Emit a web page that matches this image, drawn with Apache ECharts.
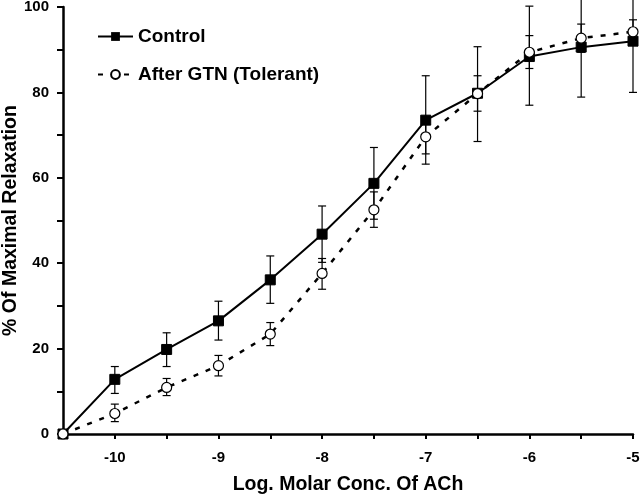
<!DOCTYPE html>
<html>
<head>
<meta charset="utf-8">
<script src="https://cdn.jsdelivr.net/npm/echarts@6/dist/echarts.min.js"></script>
<style>
  html, body { margin: 0; padding: 0; background: #fff; }
  #main { width: 640px; height: 494px; }
</style>
</head>
<body>
<div id="main"></div>
<script>
// log molar concentration of ACh
const logConc = [-10.5, -10, -9.5, -9, -8.5, -8, -7.5, -7, -6.5, -6, -5.5, -5];

// Control
const control   = [0, 12.8, 19.8, 26.5, 36.1, 46.8, 58.7, 73.5, 79.8, 88.4, 90.6, 92.0];
const controlHi = [null, 15.8, 23.7, 31.1, 41.7, 53.4, 67.1, 83.9, 90.7, 100.2, 102.3, 104.0];
const controlLo = [null, 9.5, 15.8, 22.0, 30.6, 40.2, 50.3, 63.2, 68.5, 77.0, 78.9, 80.0];

// After GTN (Tolerant)
const gtn   = [0, 4.8, 10.9, 16.0, 23.4, 37.6, 52.5, 69.6, 79.7, 89.4, 92.7, 94.2];
const gtnHi = [null, 7.0, 13.0, 18.4, 26.1, 41.1, 56.7, 73.6, 83.9, 93.3, 96.0, 97.0];
const gtnLo = [null, 2.9, 9.0, 13.6, 20.7, 33.9, 48.4, 65.6, 75.6, 85.6, 89.4, 91.4];

const font = '"Liberation Sans", Arial, sans-serif';

function pairs(ys) {
  return logConc.map((x, i) => [x, ys[i]]);
}
function errData(lo, hi) {
  const out = [];
  logConc.forEach((x, i) => {
    if (lo[i] != null) out.push([x, lo[i], hi[i]]);
  });
  return out;
}
function errRender(params, api) {
  const x = api.value(0);
  const lo = api.coord([x, api.value(1)]);
  const hi = api.coord([x, api.value(2)]);
  const w = 4;
  const st = { stroke: '#000', lineWidth: 1.2 };
  return {
    type: 'group',
    children: [
      { type: 'line', shape: { x1: hi[0], y1: hi[1], x2: lo[0], y2: lo[1] }, style: st },
      { type: 'line', shape: { x1: hi[0] - w, y1: hi[1], x2: hi[0] + w, y2: hi[1] }, style: st },
      { type: 'line', shape: { x1: lo[0] - w, y1: lo[1], x2: lo[0] + w, y2: lo[1] }, style: st }
    ]
  };
}

const chart = echarts.init(document.getElementById('main'));
chart.setOption({
  animation: false,
  backgroundColor: '#fff',
  grid: { left: 63, right: 7, top: 7, bottom: 60, containLabel: false, outerBoundsMode: 'none' },
  legend: {
    orient: 'vertical',
    left: 92,
    top: 22,
    itemWidth: 35,
    itemHeight: 11,
    itemGap: 19,
    textStyle: { fontFamily: font, fontWeight: 'bold', fontSize: 19, color: '#000' },
    data: ['Control', 'After GTN (Tolerant)']
  },
  xAxis: {
    type: 'value',
    min: -10.5,
    max: -5,
    interval: 0.5,
    name: 'Log. Molar Conc. Of ACh',
    nameLocation: 'middle',
    nameGap: 41,
    nameTextStyle: { fontFamily: font, fontWeight: 'bold', fontSize: 19.5, color: '#000' },
    axisLine: { lineStyle: { color: '#000', width: 2.5 } },
    axisTick: { inside: false, length: 5, lineStyle: { color: '#000', width: 2 } },
    axisLabel: {
      margin: 16,
      fontFamily: font, fontWeight: 'bold', fontSize: 15, color: '#000',
      formatter: v => (Number.isInteger(v) ? String(v) : '')
    },
    splitLine: { show: false }
  },
  yAxis: {
    type: 'value',
    min: 0,
    max: 100,
    interval: 10,
    name: '% Of Maximal Relaxation',
    nameLocation: 'middle',
    nameGap: 42,
    nameMoveOverlap: false,
    nameRotate: 90,
    nameTextStyle: { fontFamily: font, fontWeight: 'bold', fontSize: 19.5, color: '#000' },
    axisLine: { show: true, lineStyle: { color: '#000', width: 2.5 } },
    axisTick: { show: true, inside: false, length: 6, lineStyle: { color: '#000', width: 2 } },
    axisLabel: {
      margin: 14,
      fontFamily: font, fontWeight: 'bold', fontSize: 15, color: '#000',
      formatter: v => (v % 20 === 0 ? String(v) : '')
    },
    splitLine: { show: false }
  },
  series: [
    {
      type: 'custom',
      name: 'ctrlErr',
      renderItem: errRender,
      data: errData(controlLo, controlHi),
      clip: false,
      z: 1,
      silent: true
    },
    {
      type: 'custom',
      name: 'gtnErr',
      renderItem: errRender,
      data: errData(gtnLo, gtnHi),
      clip: false,
      z: 1,
      silent: true
    },
    {
      name: 'Control',
      type: 'line',
      data: pairs(control),
      symbol: 'rect',
      symbolSize: 10,
      showAllSymbol: true,
      itemStyle: { color: '#000', borderColor: '#000' },
      lineStyle: { color: '#000', width: 2 },
      z: 3
    },
    {
      name: 'After GTN (Tolerant)',
      type: 'line',
      data: pairs(gtn),
      symbol: 'circle',
      symbolSize: 10,
      showAllSymbol: true,
      itemStyle: { color: '#fff', borderColor: '#000', borderWidth: 1.2 },
      lineStyle: { color: '#000', width: 2.5, type: [5, 8] },
      z: 4
    }
  ]
});
</script>
</body>
</html>
